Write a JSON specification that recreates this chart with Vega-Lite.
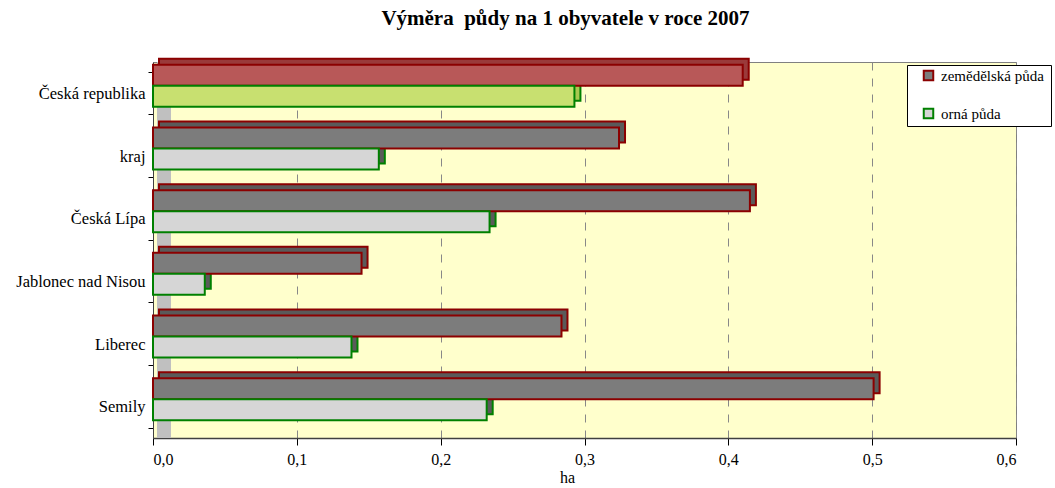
{
  "$schema": "https://vega.github.io/schema/vega-lite/v6.json",
  "autosize": "none",
  "width": 863,
  "height": 376,
  "padding": {"left": 153, "top": 62, "right": 39, "bottom": 50},
  "background": "white",
  "title": {
    "text": "Výměra \u00a0půdy na 1 obyvatele v roce 2007",
    "font": "Liberation Serif",
    "fontSize": 21,
    "fontWeight": "bold",
    "color": "black",
    "anchor": "middle",
    "frame": "group",
    "dx": -19,
    "baseline": "alphabetic",
    "offset": 8
  },
  "config": {
    "view": {"fill": "#FFFFCC", "stroke": "#808080", "strokeWidth": 1},
    "font": "Liberation Serif",
    "axis": {"labelFont": "Liberation Serif", "titleFont": "Liberation Serif"},
    "legend": {"labelFont": "Liberation Serif"}
  },
  "data": {
    "values": [
      {"oblast": "Česká republika", "typ": "zemědělská  půda", "ha": 0.410},
      {"oblast": "Česká republika", "typ": "orná půda", "ha": 0.293},
      {"oblast": "kraj", "typ": "zemědělská  půda", "ha": 0.324},
      {"oblast": "kraj", "typ": "orná půda", "ha": 0.157},
      {"oblast": "Česká Lípa", "typ": "zemědělská  půda", "ha": 0.415},
      {"oblast": "Česká Lípa", "typ": "orná půda", "ha": 0.234},
      {"oblast": "Jablonec nad Nisou", "typ": "zemědělská  půda", "ha": 0.145},
      {"oblast": "Jablonec nad Nisou", "typ": "orná půda", "ha": 0.036},
      {"oblast": "Liberec", "typ": "zemědělská  půda", "ha": 0.284},
      {"oblast": "Liberec", "typ": "orná půda", "ha": 0.138},
      {"oblast": "Semily", "typ": "zemědělská  půda", "ha": 0.501},
      {"oblast": "Semily", "typ": "orná půda", "ha": 0.232}
    ]
  },
  "resolve": {"scale": {"yOffset": "independent"}},
  "layer": [
    {
      "mark": {"type": "rule", "color": "#C0C0C0", "strokeWidth": 14, "xOffset": 11},
      "encoding": {
        "x": {"datum": 0, "type": "quantitative"}
      }
    },
    {
      "mark": {"type": "bar", "strokeWidth": 2, "xOffset": 6},
      "encoding": {
        "y": {
          "field": "oblast",
          "type": "nominal",
          "sort": ["Česká republika", "kraj", "Česká Lípa", "Jablonec nad Nisou", "Liberec", "Semily"],
          "scale": {"paddingInner": 0.33, "paddingOuter": 0.165},
          "axis": {
            "title": null,
            "labelFont": "Liberation Serif",
            "labelFontSize": 16.5,
            "labelColor": "black",
            "labelPadding": 3,
            "tickBand": "extent",
            "tickColor": "black",
            "tickSize": 5,
            "domainColor": "#404040",
            "domainWidth": 1
          }
        },
        "x": {
          "field": "ha",
          "type": "quantitative",
          "scale": {"domain": [0, 0.6], "nice": false},
          "axis": {
            "title": "ha",
            "titleFont": "Liberation Serif",
            "titleFontSize": 16,
            "titleFontWeight": "normal",
            "titleColor": "black",
            "titleX": 414,
            "titlePadding": 2,
            "values": [0, 0.1, 0.2, 0.3, 0.4, 0.5, 0.6],
            "labelExpr": "replace(format(datum.value, '.1f'), '.', ',')",
            "labelFont": "Liberation Serif",
            "labelFontSize": 16,
            "labelColor": "black",
            "labelPadding": 6,
            "tickColor": "black",
            "tickSize": 7,
            "domainColor": "#404040",
            "domainWidth": 1.5,
            "grid": true,
            "gridDash": [8, 8],
            "gridColor": "#888888",
            "gridWidth": 1
          }
        },
        "yOffset": {
          "field": "typ",
          "type": "nominal",
          "sort": ["zemědělská  půda", "orná půda"],
          "scale": {"range": [-13.5, 28.5]}
        },
        "stroke": {
          "field": "typ",
          "type": "nominal",
          "sort": ["zemědělská  půda", "orná půda"],
          "scale": {"domain": ["zemědělská  půda", "orná půda"], "range": ["#8B0000", "#008000"]},
          "legend": {
            "title": null,
            "orient": "none",
            "legendX": 754,
            "legendY": 3,
            "fillColor": "white",
            "strokeColor": "black",
            "padding": 3,
            "symbolOffset": 11,
            "symbolType": "square",
            "symbolSize": 90,
            "symbolStrokeWidth": 2,
            "labelFont": "Liberation Serif",
            "labelFontSize": 15,
            "labelColor": "black",
            "labelOffset": 5,
            "rowPadding": 19
          }
        },
        "fill": {
          "condition": [
            {"test": "datum.oblast === 'Česká republika' && datum.typ === 'zemědělská  půda'", "value": "#9a3a3a"},
            {"test": "datum.oblast === 'Česká republika' && datum.typ === 'orná půda'", "value": "#a8c850"}
          ],
          "value": "#5a5a5a"
        }
      }
    },
    {
      "mark": {"type": "bar", "strokeWidth": 2},
      "encoding": {
        "y": {
          "field": "oblast",
          "type": "nominal",
          "sort": ["Česká republika", "kraj", "Česká Lípa", "Jablonec nad Nisou", "Liberec", "Semily"]
        },
        "x": {"field": "ha", "type": "quantitative"},
        "yOffset": {
          "field": "typ",
          "type": "nominal",
          "sort": ["zemědělská  půda", "orná půda"],
          "scale": {"range": [-7.5, 34.5]}
        },
        "stroke": {
          "field": "typ",
          "type": "nominal",
          "sort": ["zemědělská  půda", "orná půda"]
        },
        "fill": {
          "condition": [
            {"test": "datum.oblast === 'Česká republika' && datum.typ === 'zemědělská  půda'", "value": "#B85858"},
            {"test": "datum.oblast === 'Česká republika' && datum.typ === 'orná půda'", "value": "#C8E070"}
          ],
          "field": "typ",
          "type": "nominal",
          "sort": ["zemědělská  půda", "orná půda"],
          "scale": {"domain": ["zemědělská  půda", "orná půda"], "range": ["#7c7c7c", "#d6d6d6"]},
          "legend": {
            "title": null,
            "orient": "none",
            "legendX": 754,
            "legendY": 3,
            "fillColor": "white",
            "strokeColor": "black",
            "padding": 3,
            "symbolOffset": 11,
            "symbolType": "square",
            "symbolSize": 90,
            "symbolStrokeWidth": 2,
            "labelFont": "Liberation Serif",
            "labelFontSize": 15,
            "labelColor": "black",
            "labelOffset": 5,
            "rowPadding": 19
          }
        }
      }
    }
  ]
}
